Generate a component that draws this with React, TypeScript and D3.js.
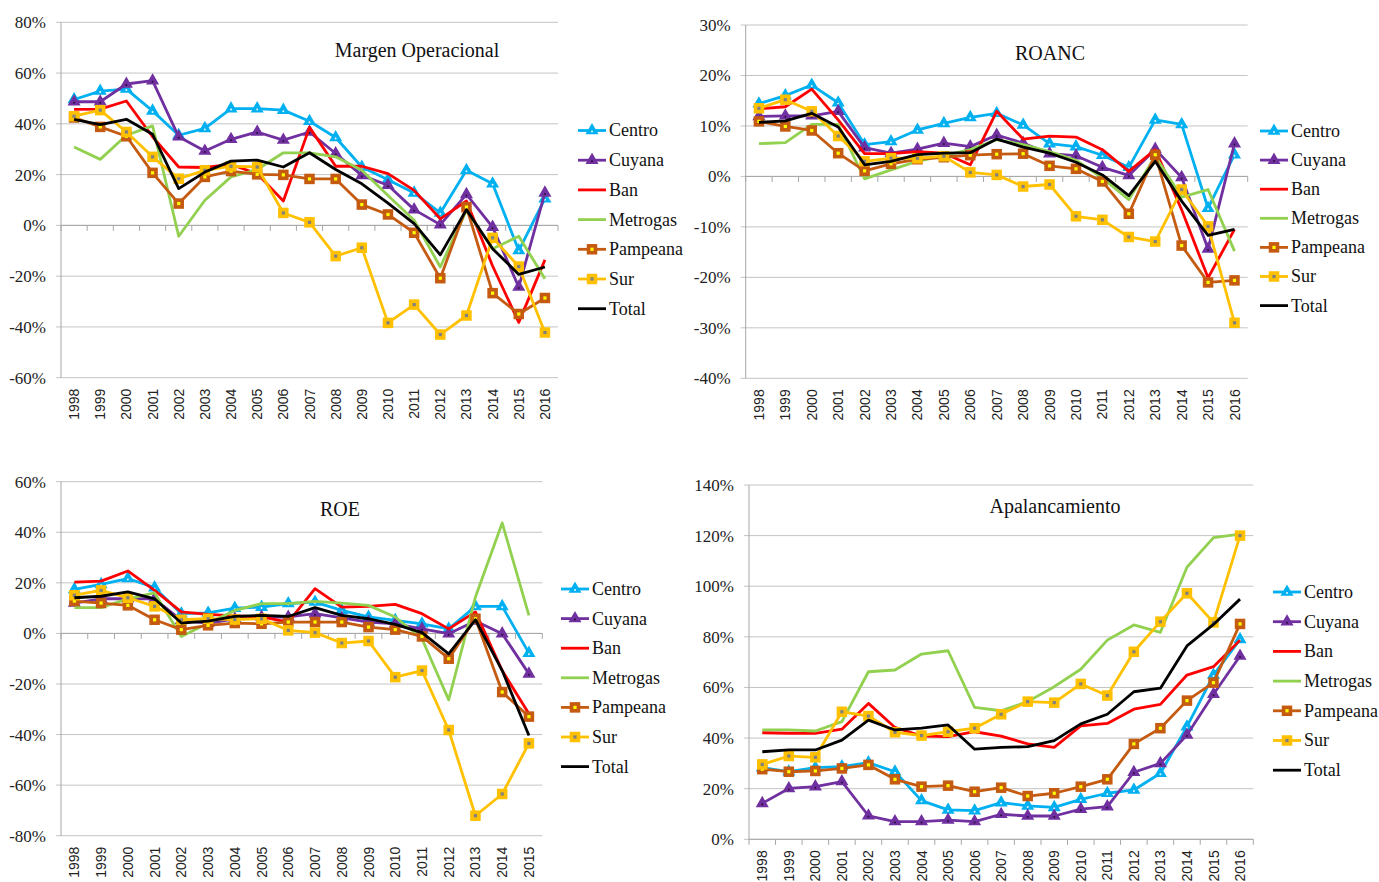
import React from 'react';
import * as d3 from 'd3';

// categories
const years = ['1998', '1999', '2000', '2001', '2002', '2003', '2004', '2005', '2006', '2007',
  '2008', '2009', '2010', '2011', '2012', '2013', '2014', '2015', '2016'];
const yearsRoe = years.slice(0, 18);

const seriesNames = ['Centro', 'Cuyana', 'Ban', 'Metrogas', 'Pampeana', 'Sur', 'Total'];

// Margen Operacional (%)
const margenCentro = [49.6, 52.9, 53.7, 45.1, 35.5, 38.2, 46, 46, 45.4, 41, 34.6, 23, 18, 12.8, 4.9, 21.7, 16.4, -9.9, 10.5];
const margenCuyana = [48.7, 48.7, 55.7, 57, 34.9, 29.3, 33.9, 36.8, 33.6, 36.8, 28.3, 19.7, 15.8, 6.2, 0.3, 12.2, -0.7, -24.3, 12.8];
const margenBan = [45.7, 45.8, 49, 34.9, 23, 22.8, 24, 20.4, 9.6, 38.6, 23.3, 23.3, 20.4, 13.8, 2.6, 9.6, -16, -38.2, -13.6];
const margenMetrogas = [30.9, 26, 35.5, 39.2, -4.3, 9.9, 19.1, 22, 28.6, 28.6, 27, 21.7, 11.8, 2, -16.4, 5.9, -9.2, -4.3, -21];
const margenPampeana = [42.5, 38.8, 35.1, 20.7, 8.6, 19.1, 21.4, 20.1, 19.9, 18.3, 18.3, 8.2, 4.3, -2.9, -20.8, 7.2, -26.7, -34.9, -28.6];
const margenSur = [43, 45.4, 36.8, 27, 18.4, 21.7, 23.3, 23, 4.9, 1.2, -12.1, -8.8, -38.4, -31.2, -43, -35.5, -4.9, -16.2, -42.2];
const margenTotal = [41.8, 39.7, 41.8, 35.9, 14.5, 21, 25.3, 25.7, 23, 28.6, 22, 16.4, 8.8, 0.7, -11.6, 6.2, -9.2, -19.3, -16.4];

// ROANC (%)
const roancCentro = [14.4, 16, 18.1, 14.6, 6.3, 6.9, 9.2, 10.5, 11.7, 12.5, 10.2, 6.5, 5.9, 4.2, 1.8, 11.2, 10.3, -6.3, 4.3];
const roancCuyana = [11.9, 12, 12, 12.9, 5.7, 4.6, 5.4, 6.6, 5.9, 8.2, 6.6, 4.5, 4.1, 1.8, 0.2, 5.4, -0.2, -14.4, 6.5];
const roancBan = [13.4, 13.8, 17.3, 11.2, 4.5, 4.5, 4.9, 4.6, 2.3, 12.9, 7.4, 8, 7.8, 5.3, 1, 5.3, -6.6, -20.1, -10.5];
const roancMetrogas = [6.5, 6.7, 10.3, 10.3, -0.5, 1.3, 3, 4.1, 5.3, 7.3, 6.3, 4.9, 3.2, -0.3, -4.6, 4, -4.1, -2.6, -14.8];
const roancPampeana = [10.9, 9.9, 9.1, 4.6, 1.1, 2.5, 3.4, 3.8, 4.2, 4.4, 4.5, 2.1, 1.5, -1, -7.4, 4.3, -13.7, -21, -20.6];
const roancSur = [13.5, 15.2, 12.9, 8, 3, 3.6, 3.6, 4, 0.8, 0.3, -2, -1.6, -7.9, -8.6, -12, -12.9, -2.6, -9.9, -29];
const roancTotal = [10.7, 11, 12.5, 9.8, 2.3, 3, 4.3, 4.6, 4.7, 7.4, 5.8, 4.6, 2.8, 0.3, -3.8, 3, -4.9, -11.7, -10.5];

// ROE (%)
const roeCentro = [17.4, 19.4, 21.7, 18.1, 7.8, 8.1, 10, 10.4, 11.8, 12.4, 9.1, 6.5, 5.2, 3.8, 1.8, 10.7, 10.7, -7.8];
const roeCuyana = [12, 13.7, 13.7, 13.7, 5.2, 4, 5.8, 6.5, 6.5, 7.8, 6.1, 4.5, 3.8, 1.8, -0.1, 4.9, -0.1, -16];
const roeBan = [20.3, 20.7, 24.7, 17, 8.5, 7.5, 6.9, 6.5, 4.5, 17.7, 10.4, 10.7, 11.5, 7.8, 1.8, 8.5, -14.7, -31.8];
const roeMetrogas = [10.2, 10.2, 13.7, 16, -1.2, 4, 9.1, 11.8, 11.8, 12.7, 12, 11.1, 6.5, -2.1, -26.3, 14.4, 43.7, 7.1];
const roePampeana = [12.8, 12, 11.1, 5.4, 1.5, 3.2, 4.1, 3.8, 4.5, 4.5, 4.5, 2.5, 1.5, -1.2, -10, 5.8, -23.2, -32.9];
const roeSur = [15.1, 17, 14.1, 10.7, 5.4, 5.8, 5.5, 5.8, 1.2, 0.3, -3.8, -3, -17.3, -14.7, -38.2, -72.1, -63.5, -43.5];
const roeTotal = [14.1, 14.7, 16.4, 13.7, 4.1, 4.9, 6.7, 7.1, 6.7, 10.2, 7.1, 5.8, 3.6, 0.3, -8.1, 5.4, -14.7, -40.4];

// Apalancamiento (%)
const apalCentro = [28.3, 26.7, 28.3, 28.7, 30.3, 26.7, 15.3, 11.6, 11.3, 14.5, 13.2, 12.6, 15.8, 18.2, 19.5, 26.1, 44.5, 64.9, 79];
const apalCuyana = [14.2, 20.1, 20.8, 22.8, 9.3, 7, 7, 7.6, 7, 9.9, 9.2, 9.2, 11.9, 12.9, 26.5, 30, 41.2, 57.3, 72.4];
const apalBan = [42.1, 41.9, 41.9, 43.5, 53.7, 44.2, 40.8, 40.6, 42.5, 40.8, 37.7, 36.3, 44.8, 45.8, 51.4, 53.3, 64.9, 68.2, 78.7];
const apalMetrogas = [43.2, 43.2, 42.8, 46.5, 66.2, 66.9, 73.2, 74.5, 52.1, 50.8, 54.4, 60.3, 67.2, 78.7, 84.7, 81.8, 107.5, 119.2, 120.6];
const apalPampeana = [27.7, 26.7, 27, 28, 29.4, 23.7, 20.8, 21.2, 18.8, 20.4, 17.1, 18.2, 20.8, 23.7, 37.7, 43.9, 54.8, 61.9, 85.1];
const apalSur = [29.6, 32.9, 32.4, 50.4, 48.7, 42.3, 41, 42.5, 43.9, 49.4, 54.4, 54, 61.4, 56.8, 74.1, 86, 97.2, 85.7, 120];
const apalTotal = [34.6, 35.3, 35.3, 39.2, 47.1, 43.2, 43.9, 45.2, 35.6, 36.3, 36.6, 39, 45.6, 49.4, 58.3, 59.7, 76.4, 84.9, 94.9];

type Marker = 'none' | 'triangle' | 'square';
interface Style { color: string; marker: Marker; inner: string }

const styles: Record<string, Style> = {
  Centro: { color: '#00B0F0', marker: 'triangle', inner: '#e8f7ff' },
  Cuyana: { color: '#7030A0', marker: 'triangle', inner: '#2a0f40' },
  Ban: { color: '#FF0000', marker: 'none', inner: '' },
  Metrogas: { color: '#92D050', marker: 'none', inner: '' },
  Pampeana: { color: '#C55A11', marker: 'square', inner: '#FFFF00' },
  Sur: { color: '#FFC000', marker: 'square', inner: '#808080' },
  Total: { color: '#000000', marker: 'none', inner: '' },
};

const serif = '"Liberation Serif", "Times New Roman", serif';
const sans = '"Liberation Sans", Arial, sans-serif';
const gridColor = '#c4c4c4';
const axisColor = '#a6a6a6';

function MarkerShape({ cx, cy, s }: { cx: number; cy: number; s: Style }) {
  if (s.marker === 'triangle') {
    const tri = d3.symbol().type(d3.symbolTriangle).size(46)() as string;
    return (
      <g transform={`translate(${cx},${cy})`}>
        <path d={tri} fill={s.color} stroke={s.color} strokeWidth={1.6} />
        <circle cx={0} cy={1} r={1} fill={s.inner} />
      </g>
    );
  }
  if (s.marker === 'square') {
    return (
      <g transform={`translate(${cx},${cy})`}>
        <rect x={-4.5} y={-4.5} width={9} height={9} fill={s.color} stroke={s.color} strokeWidth={1.5} />
        <rect x={-1.6} y={-1.6} width={3.2} height={3.2} fill={s.inner} />
      </g>
    );
  }
  return null;
}

interface PanelProps {
  title: string;
  cats: string[];
  values: number[][];
  domain: [number, number];
  step: number;
  left: number; right: number; top: number; bottom: number;
  titleX: number; titleY: number;
  legendX: number; legendY: number; legendStep: number;
}

function Panel(p: PanelProps) {
  const x = d3.scaleBand<string>().domain(p.cats).range([p.left, p.right]);
  const bw = x.bandwidth();
  const cx = (c: string) => (x(c) as number) + bw / 2;
  const y = d3.scaleLinear().domain(p.domain).range([p.bottom, p.top]);
  const ticks = d3.range(p.domain[0], p.domain[1] + p.step / 2, p.step);
  const y0 = y(0);
  const line = d3.line<number>().x((_, i) => cx(p.cats[i])).y(d => y(d));
  const boundaries = d3.range(0, p.cats.length + 1).map(i => p.left + i * bw);

  return (
    <g>
      {ticks.map(t => (
        <g key={t}>
          <line x1={p.left - 5} x2={p.right} y1={y(t)} y2={y(t)} stroke={gridColor} strokeWidth={1} />
          <text x={p.left - 15} y={y(t)} dy="0.35em" textAnchor="end" fontFamily={serif} fontSize={17} fill="#222">
            {`${t}%`}
          </text>
        </g>
      ))}
      <line x1={p.left} x2={p.left} y1={p.top} y2={p.bottom} stroke={axisColor} strokeWidth={1} />
      <line x1={p.left} x2={p.right} y1={y0} y2={y0} stroke={axisColor} strokeWidth={1} />
      {boundaries.map((bx, i) => (
        <line key={i} x1={bx} x2={bx} y1={y0} y2={y0 + 5.5} stroke={axisColor} strokeWidth={1} />
      ))}
      {p.cats.map(c => (
        <text key={c} transform={`translate(${cx(c)},${p.bottom + 11}) rotate(-90)`} dy="0.36em"
          textAnchor="end" fontFamily={sans} fontSize={14} fill="#222">{c}</text>
      ))}
      <text x={p.titleX} y={p.titleY} textAnchor="middle" fontFamily={serif} fontSize={20} fill="#111">{p.title}</text>

      {p.values.map((vals, si) => {
        const s = styles[seriesNames[si]];
        return (
          <g key={si}>
            <path d={line(vals) as string} fill="none" stroke={s.color} strokeWidth={2.8} strokeLinejoin="round" />
            {vals.map((v, i) => <MarkerShape key={i} cx={cx(p.cats[i])} cy={y(v)} s={s} />)}
          </g>
        );
      })}

      {seriesNames.map((n, i) => {
        const s = styles[n];
        const ly = p.legendY + i * p.legendStep;
        return (
          <g key={n}>
            <line x1={p.legendX} x2={p.legendX + 28} y1={ly} y2={ly} stroke={s.color} strokeWidth={2.8} />
            <MarkerShape cx={p.legendX + 14} cy={ly} s={s} />
            <text x={p.legendX + 31} y={ly} dy="0.33em" fontFamily={serif} fontSize={18} fill="#111">{n}</text>
          </g>
        );
      })}
    </g>
  );
}

export default function App() {
  return (
    <svg width={1379} height={882} style={{ position: 'absolute', left: 0, top: 0, background: '#fff' }}>
      <Panel title="Margen Operacional" cats={years}
        values={[margenCentro, margenCuyana, margenBan, margenMetrogas, margenPampeana, margenSur, margenTotal]}
        domain={[-60, 80]} step={20} left={61} right={558} top={22.3} bottom={377.7}
        titleX={417} titleY={57} legendX={578} legendY={130.5} legendStep={29.7} />
      <Panel title="ROANC" cats={years}
        values={[roancCentro, roancCuyana, roancBan, roancMetrogas, roancPampeana, roancSur, roancTotal]}
        domain={[-40, 30]} step={10} left={745.7} right={1247.7} top={25} bottom={378.3}
        titleX={1050} titleY={60} legendX={1260} legendY={131} legendStep={29.1} />
      <Panel title="ROE" cats={yearsRoe}
        values={[roeCentro, roeCuyana, roeBan, roeMetrogas, roePampeana, roeSur, roeTotal]}
        domain={[-80, 60]} step={20} left={61} right={542.3} top={481.7} bottom={835.7}
        titleX={340} titleY={516} legendX={561} legendY={589} legendStep={29.6} />
      <Panel title="Apalancamiento" cats={years}
        values={[apalCentro, apalCuyana, apalBan, apalMetrogas, apalPampeana, apalSur, apalTotal]}
        domain={[0, 140]} step={20} left={749} right={1253.3} top={485} bottom={839.3}
        titleX={1055} titleY={513} legendX={1273} legendY={592} legendStep={29.7} />
    </svg>
  );
}
